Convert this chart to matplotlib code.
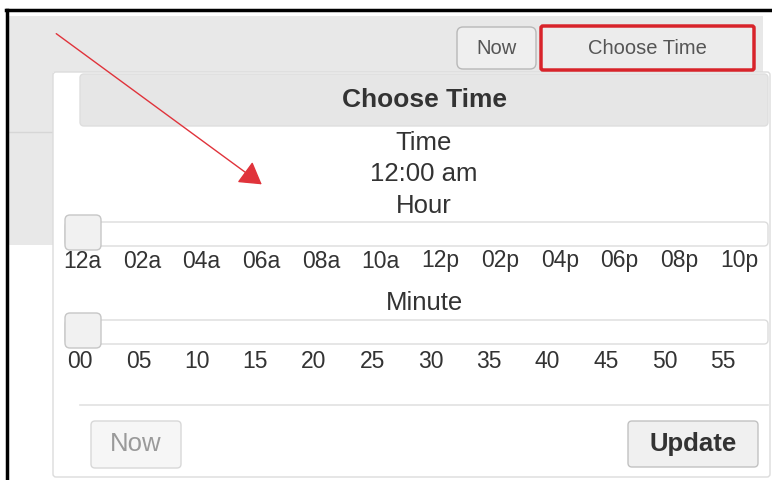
import numpy as np
import matplotlib
matplotlib.use("Agg")
import matplotlib.pyplot as plt
from matplotlib.patches import FancyBboxPatch, Rectangle

plt.rcParams['font.family'] = ['Liberation Sans', 'DejaVu Sans']

# --- contenu de l'écran ---
TITLE = "Choose Time"
TOP_BUTTONS = ["Now", "Choose Time"]
TIME_LABEL = "Time"
TIME_VALUE = "12:00 am"
HOUR_LABEL = "Hour"
MINUTE_LABEL = "Minute"
HOUR_TICKS = ["12a", "02a", "04a", "06a", "08a", "10a",
              "12p", "02p", "04p", "06p", "08p", "10p"]
MINUTE_TICKS = ["00", "05", "10", "15", "20", "25",
                "30", "35", "40", "45", "50", "55"]
HOUR_VALUE = 0
MINUTE_VALUE = 0
BOTTOM_BUTTONS = ["Now", "Update"]

TXT = '#333333'

fig = plt.figure(figsize=(7.72, 4.80), dpi=100)
ax = fig.add_axes([0, 0, 1, 1])
ax.set_xlim(0, 772)
ax.set_ylim(480, 0)
ax.axis('off')


def rbox(x0, y0, x1, y1, fc, ec, lw=1, r=4, z=1):
    p = FancyBboxPatch((x0, y0), x1 - x0, y1 - y0,
                       boxstyle=f"round,pad=0,rounding_size={r}",
                       fc=fc, ec=ec, lw=lw, zorder=z)
    ax.add_patch(p)


# fond gris de la page + cadre noir
ax.add_patch(Rectangle((8, 16), 755, 56, fc='#e8e8e8', ec='none', zorder=0))
ax.add_patch(Rectangle((8, 16), 45, 229, fc='#e8e8e8', ec='none', zorder=0))
ax.plot([8, 52], [132, 132], color='#d6d6d6', lw=1, zorder=0.5)
ax.plot([6.5, 6.5], [10, 480], color='black', lw=2.5, zorder=5)
ax.plot([6, 772], [10, 10], color='black', lw=2.5, zorder=5)

# boutons du haut
rbox(457, 27, 536, 69, '#efefef', '#b8b8b8', lw=1, r=6, z=2)
ax.text(496, 49, TOP_BUTTONS[0], ha='center', va='center', fontsize=14.5, color='#555555', zorder=3)
rbox(541, 26, 754, 70, '#ececec', '#d8232a', lw=2.5, r=2, z=2)
ax.text(647, 49, TOP_BUTTONS[1], ha='center', va='center', fontsize=14.5, color='#555555', zorder=3)

# fenêtre popup
rbox(53, 72, 770, 477, 'white', '#dcdcdc', lw=1, r=3, z=1.5)
rbox(80, 74, 768, 126, '#e6e6e6', '#dedede', lw=1, r=4, z=2)
ax.text(424, 100, TITLE, ha='center', va='center', fontsize=19, fontweight='bold', color=TXT, zorder=3)

ax.text(424, 143, TIME_LABEL, ha='center', va='center', fontsize=18.5, color=TXT, zorder=3)
ax.text(424, 174, TIME_VALUE, ha='center', va='center', fontsize=18.5, color=TXT, zorder=3)
ax.text(424, 206, HOUR_LABEL, ha='center', va='center', fontsize=18.5, color=TXT, zorder=3)


def slider(y_track, labels, value, y_lab, x_first, x_last):
    rbox(65, y_track, 768, y_track + 24, 'white', '#dcdcdc', lw=1, r=4, z=2)
    xs = np.linspace(x_first, x_last, len(labels))
    for x, lab in zip(xs, labels):
        ax.text(x, y_lab, lab, ha='center', va='center', fontsize=16.5, color=TXT, zorder=3)
    # poignée
    tx = 65 + value * (xs[1] - xs[0])
    rbox(tx, y_track - 7, tx + 36, y_track + 28, '#f1f1f1', '#c6c6c6', lw=1, r=5, z=4)


slider(222, HOUR_TICKS, HOUR_VALUE, 261, 82, 739)
ax.text(424, 303, MINUTE_LABEL, ha='center', va='center', fontsize=18.5, color=TXT, zorder=3)
slider(320, MINUTE_TICKS, MINUTE_VALUE, 362, 80, 723)

# séparateur + boutons du bas
ax.plot([80, 768], [405, 405], color='#e2e2e2', lw=1.2, zorder=2)
rbox(91, 421, 181, 468, '#f6f6f6', '#d8d8d8', lw=1, r=4, z=2)
ax.text(136, 444, BOTTOM_BUTTONS[0], ha='center', va='center', fontsize=18.5, color='#9a9a9a', zorder=3)
rbox(628, 421, 758, 467, '#f0f0f0', '#c2c2c2', lw=1, r=4, z=2)
ax.text(693, 444, BOTTOM_BUTTONS[1], ha='center', va='center', fontsize=18.5, fontweight='bold', color=TXT, zorder=3)

# flèche rouge d'annotation
ax.annotate('', xy=(264, 186), xytext=(54, 32),
            arrowprops=dict(arrowstyle='-|>,head_length=0.75,head_width=0.45',
                            color='#e0333b', lw=1, mutation_scale=18),
            zorder=6)

fig.savefig('out.png', dpi=100)
